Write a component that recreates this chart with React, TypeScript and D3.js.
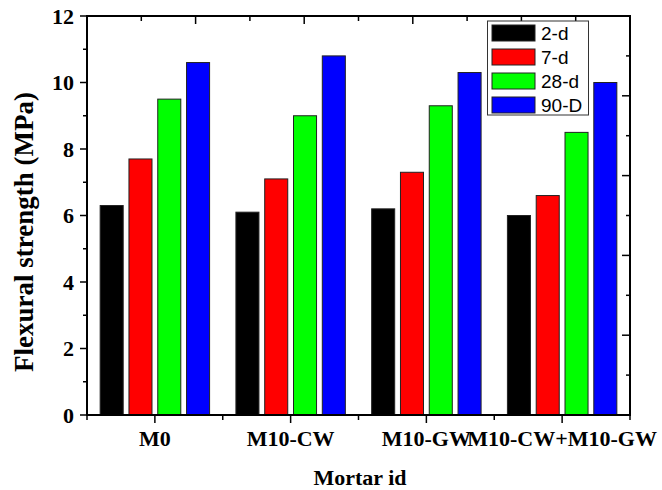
import React from "react";
import * as d3 from "d3";

const categories = ["M0", "M10-CW", "M10-GW", "M10-CW+M10-GW"];
const seriesNames = ["2-d", "7-d", "28-d", "90-D"];
const seriesColors = ["#000000", "#ff0000", "#00ff00", "#0000ff"];
const values2d = [6.3, 6.1, 6.2, 6.0];
const values7d = [7.7, 7.1, 7.3, 6.6];
const values28d = [9.5, 9.0, 9.3, 8.5];
const values90d = [10.6, 10.8, 10.3, 10.0];
const seriesValues = [values2d, values7d, values28d, values90d];
const yTicks = [0, 2, 4, 6, 8, 10, 12];

const W = 662, H = 490;
const L = 87, R = 630, T = 16, B = 415;

export default function App() {
  const x = d3.scaleBand<string>().domain(categories).range([L, R]).paddingInner(0).paddingOuter(0);
  const xi = d3.scaleBand<string>().domain(seriesNames).range([0, x.bandwidth()]).paddingInner(0.2).paddingOuter(0.457);
  const y = d3.scaleLinear().domain([0, 12]).range([B, T]);
  const yR = d3.scaleLinear().domain([0, 10]).range([B, T]);
  const xT = d3.scaleLinear().domain([0, 10]).range([L, R]);
  const serif = "'Liberation Serif', 'Times New Roman', serif";
  const sans = "'Liberation Sans', Arial, sans-serif";

  const yMinor = d3.range(1, 12, 2);
  const bounds = d3.range(0, categories.length + 1).map((i) => L + i * x.step());
  const rTicks = d3.range(0, 11);

  return (
    <svg width={W} height={H} style={{ position: "absolute", left: 0, top: 0, background: "#fff" }}>
      {/* bars */}
      {seriesValues.map((vals, j) =>
        vals.map((v, i) => (
          <rect
            key={`${j}-${i}`}
            x={(x(categories[i]) as number) + (xi(seriesNames[j]) as number)}
            y={y(v)}
            width={xi.bandwidth()}
            height={B - y(v)}
            fill={seriesColors[j]}
            stroke="#222"
            strokeWidth={1}
          />
        ))
      )}
      {/* frame */}
      <rect x={L} y={T} width={R - L} height={B - T} fill="none" stroke="#000" strokeWidth={2} />
      {/* left ticks */}
      {yTicks.map((t) => (
        <line key={`yl${t}`} x1={L - 7} x2={L} y1={y(t)} y2={y(t)} stroke="#000" strokeWidth={1.5} />
      ))}
      {yMinor.map((t) => (
        <line key={`ym${t}`} x1={L - 4} x2={L} y1={y(t)} y2={y(t)} stroke="#000" strokeWidth={1.5} />
      ))}
      {yTicks.map((t) => (
        <text key={`yt${t}`} x={74} y={y(t) + 7.5} textAnchor="end" fontFamily={serif} fontWeight="bold" fontSize={22}>
          {t}
        </text>
      ))}
      {/* bottom ticks */}
      {categories.map((c) => (
        <line key={`xb${c}`} x1={(x(c) as number) + x.bandwidth() / 2} x2={(x(c) as number) + x.bandwidth() / 2} y1={B} y2={B + 8} stroke="#000" strokeWidth={1.5} />
      ))}
      {bounds.map((b, i) => (
        <line key={`xm${i}`} x1={b} x2={b} y1={B} y2={B + 5} stroke="#000" strokeWidth={1.5} />
      ))}
      {categories.map((c) => (
        <text key={`xt${c}`} x={(x(c) as number) + x.bandwidth() / 2} y={446} textAnchor="middle" fontFamily={serif} fontWeight="bold" fontSize={22}>
          {c}
        </text>
      ))}
      {/* top ticks (inward) */}
      {rTicks.map((t) => (
        <line key={`tt${t}`} x1={xT(t)} x2={xT(t)} y1={T} y2={T + (t % 2 === 0 ? 8 : 5)} stroke="#000" strokeWidth={1.5} />
      ))}
      {/* right ticks (inward) */}
      {rTicks.map((t) => (
        <line key={`rt${t}`} x1={R - (t % 2 === 0 ? 8 : 4)} x2={R} y1={yR(t)} y2={yR(t)} stroke="#000" strokeWidth={1.5} />
      ))}
      {/* axis titles */}
      <text transform={`translate(33,232) rotate(-90)`} textAnchor="middle" fontFamily={serif} fontWeight="bold" fontSize={27}>
        Flexural strength (MPa)
      </text>
      <text x={360} y={485} textAnchor="middle" fontFamily={serif} fontWeight="bold" fontSize={22}>
        Mortar id
      </text>
      {/* legend */}
      <rect x={487.5} y={21} width={101} height={94} fill="#fff" stroke="#333" strokeWidth={1} />
      {seriesNames.map((s, j) => (
        <g key={`lg${s}`}>
          <rect x={492} y={25 + j * 24} width={43} height={16} fill={seriesColors[j]} stroke="#222" strokeWidth={1} />
          <text x={541} y={40 + j * 24} fontFamily={sans} fontSize={19}>
            {s}
          </text>
        </g>
      ))}
    </svg>
  );
}
